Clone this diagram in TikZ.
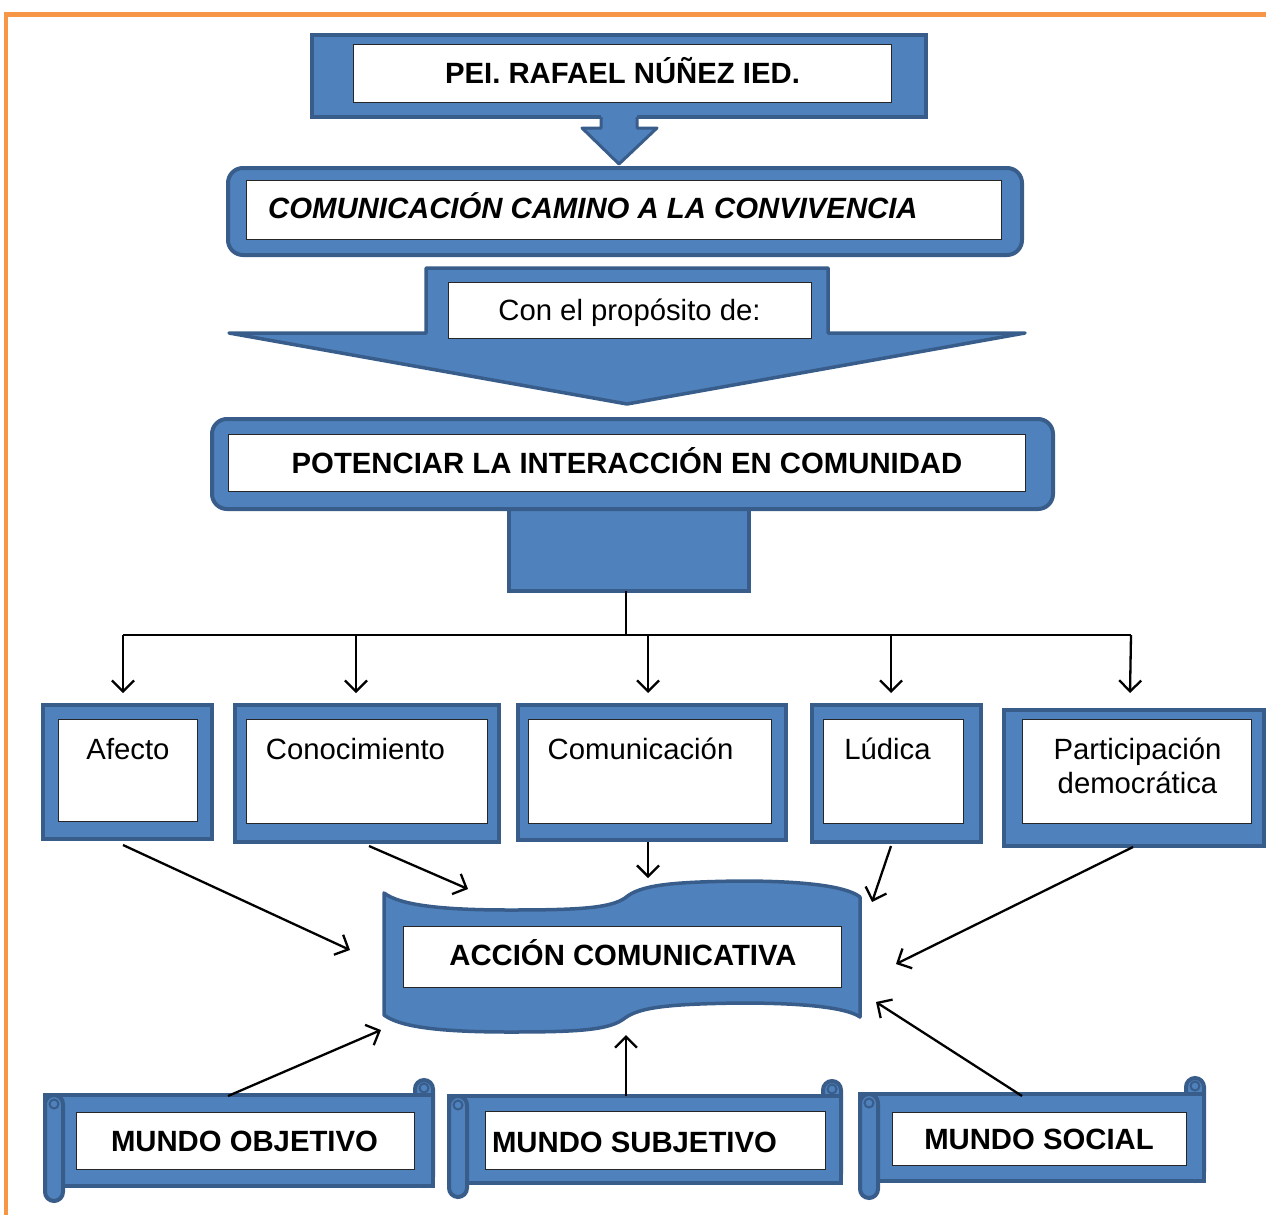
\documentclass[tikz,border=0pt]{standalone}
\usepackage{fontspec}
\setmainfont{Liberation Sans}
\usetikzlibrary{arrows.meta}
\definecolor{bfill}{HTML}{4F81BD}
\definecolor{bdark}{HTML}{385D8A}
\definecolor{orng}{HTML}{F79646}
\begin{document}
\begin{tikzpicture}[x=1pt,y=-1pt,
  bluebox/.style={draw=bdark, fill=bfill, line width=4pt, inner sep=0pt, outer sep=0pt},
  shapebl/.style={draw=bdark, fill=bfill, line width=3.5pt, line join=round},
  whitebox/.style={draw=black!85, fill=white, line width=1.3pt, inner sep=0pt},
  lbl/.style={font=\fontsize{29.3}{34}\selectfont, inner sep=0pt, anchor=base, align=center},
  blbl/.style={lbl, font=\fontsize{29.3}{34}\selectfont\bfseries},
  conn/.style={line width=2.3pt, draw=black},
  arr/.style={conn, -{Straight Barb[length=11pt,width=22pt]}},
  curl/.style={draw=bdark, line width=2pt},
]
\useasboundingbox (0,0) rectangle (1266,1215);
% orange frame
\draw[orng, line width=4.5pt] (6,1215) -- (6,14.5) -- (1266,14.5);

% ---- PEI box
\node[bluebox, minimum width=614, minimum height=82] (pei) at (619,76) {};
\node[whitebox, minimum width=538, minimum height=58] (peiw) at (622.5,73.5) {};
\node[blbl] (peit) at (622.5,84) {PEI. RAFAEL NÚÑEZ IED.};

% ---- small down arrow
\fill[bfill] (601,115) -- (601,128) -- (582,128) -- (619,164) -- (657,128) -- (637,128) -- (637,115) -- cycle;
\draw[bdark, line width=3pt, line join=round] (601,117) -- (601,128) -- (582,128) -- (619,164) -- (657,128) -- (637,128) -- (637,117);

% ---- COMUNICACION box
\node[bluebox, rounded corners=15, minimum width=794, minimum height=87] (cam) at (625,211.5) {};
\node[whitebox, minimum width=755, minimum height=59] (camw) at (624,210) {};
\node[blbl, anchor=base west, font=\fontsize{29.3}{34}\selectfont\bfseries\itshape] (camt) at (268,218) {COMUNICACIÓN CAMINO A LA CONVIVENCIA};

% ---- big down arrow
\path[shapebl] (426,268) -- (828,268) -- (828,333) -- (1025,333) -- (627,404) -- (229,333) -- (426,333) -- cycle;
\node[whitebox, minimum width=363, minimum height=56] (prop) at (630,310.5) {};
\node[lbl] (propt) at (629.5,320) {Con el propósito de:};

% ---- stem and POTENCIAR box
\node[bluebox, minimum width=240, minimum height=88] (stem) at (629,547) {};
\node[bluebox, rounded corners=15, minimum width=841, minimum height=90] (pot) at (632.5,464) {};
\node[whitebox, minimum width=797, minimum height=57] (potw) at (627,463) {};
\node[blbl] (pott) at (627,473) {POTENCIAR LA INTERACCIÓN EN COMUNIDAD};

% ---- tree connectors
\coordinate (sb) at (626,591);
\coordinate (br) at (626,635);
\coordinate (h1) at (123,635);
\coordinate (h2) at (356,635);
\coordinate (h3) at (648,635);
\coordinate (h4) at (891,635);
\coordinate (h5) at (1131,635);
\coordinate (e1) at (123,693);
\coordinate (e2) at (356,693);
\coordinate (e3) at (648,693);
\coordinate (e4) at (891,693);
\coordinate (e5) at (1130,693);
\draw[conn] (sb) -- (br);
\draw[conn] (h1) -- (h5);
\draw[arr] (h1) -- (e1);
\draw[arr] (h2) -- (e2);
\draw[arr] (h3) -- (e3);
\draw[arr] (h4) -- (e4);
\draw[arr] (h5) -- (e5);

% ---- second row
\node[bluebox, minimum width=169, minimum height=134] (afe) at (127.5,772) {};
\node[whitebox, minimum width=139, minimum height=102] (afew) at (128,770.5) {};
\node[lbl] (afet) at (128,759) {Afecto};

\node[bluebox, minimum width=264, minimum height=137] (con) at (367,773.5) {};
\node[whitebox, minimum width=241, minimum height=104] (conw) at (367,771.5) {};
\node[lbl] (cont) at (355.5,759) {Conocimiento};

\node[bluebox, minimum width=268, minimum height=135] (com) at (652,772.5) {};
\node[whitebox, minimum width=243, minimum height=104] (comw) at (650,771.5) {};
\node[lbl] (comt) at (640.5,759) {Comunicación};

\node[bluebox, minimum width=169, minimum height=137] (lud) at (896.5,773.5) {};
\node[whitebox, minimum width=140, minimum height=104] (ludw) at (893.5,771.5) {};
\node[lbl] (ludt) at (887.5,759) {Lúdica};

\node[bluebox, minimum width=260, minimum height=136] (par) at (1134,778) {};
\node[whitebox, minimum width=229, minimum height=104] (parw) at (1137,771.5) {};
\node[lbl] (part) at (1137.5,793) {Participación\\democrática};

% ---- wave shape
\path[shapebl] (384,893) .. controls (400,905) and (440,910) .. (510,910)
  .. controls (580,910) and (610,908) .. (625,898)
  .. controls (640,885) and (670,882) .. (740,881)
  .. controls (820,881) and (850,889) .. (860,897)
  -- (860,1017)
  .. controls (850,1010) and (820,1003) .. (740,1003)
  .. controls (670,1004) and (640,1007) .. (625,1018)
  .. controls (610,1030) and (580,1032) .. (510,1032)
  .. controls (440,1032) and (400,1027) .. (384,1015) -- cycle;
\node[whitebox, minimum width=438, minimum height=61] (acc) at (622.5,957) {};
\node[blbl] (acct) at (623,965) {ACCIÓN COMUNICATIVA};

% ---- arrows into wave
\coordinate (a1s) at (123,845);  \coordinate (a1e) at (350,950);
\coordinate (a2s) at (369,846);  \coordinate (a2e) at (468,889);
\coordinate (a3s) at (648,842);  \coordinate (a3e) at (648,878);
\coordinate (a4s) at (891,846);  \coordinate (a4e) at (872,902);
\coordinate (a5s) at (1133,847); \coordinate (a5e) at (896,964);
\coordinate (a6s) at (228,1096); \coordinate (a6e) at (381,1030);
\coordinate (a7s) at (626,1096); \coordinate (a7e) at (626,1035);
\coordinate (a8s) at (1022,1096);\coordinate (a8e) at (876,1002);
\draw[arr] (a1s) -- (a1e);
\draw[arr] (a2s) -- (a2e);
\draw[arr] (a3s) -- (a3e);
\draw[arr] (a4s) -- (a4e);
\draw[arr] (a5s) -- (a5e);

% ---- scrolls
% MUNDO OBJETIVO
\draw[bluebox, rounded corners=9] (415,1080) rectangle (433,1186);
\draw[bluebox] (45,1095) rectangle (433,1186);
\draw[bluebox, rounded corners=9] (45,1095) rectangle (63,1201);
\draw[curl] (54,1104) circle (4.5);
\draw[curl] (424,1088) circle (4.5);
\node[whitebox, minimum width=338, minimum height=57] (mow) at (245.5,1141) {};
\node[blbl] (mot) at (244.5,1151) {MUNDO OBJETIVO};

% MUNDO SUBJETIVO
\draw[bluebox, rounded corners=9] (823,1081) rectangle (841,1183);
\draw[bluebox] (449,1096) rectangle (841,1183);
\draw[bluebox, rounded corners=9] (449,1096) rectangle (467,1197);
\draw[curl] (458,1105) circle (4.5);
\draw[curl] (832,1089) circle (4.5);
\node[whitebox, minimum width=340, minimum height=58] (msw) at (655.5,1140.5) {};
\node[blbl] (mst) at (634.5,1152) {MUNDO SUBJETIVO};

% MUNDO SOCIAL
\draw[bluebox, rounded corners=9] (1186,1078) rectangle (1204,1181);
\draw[bluebox] (860,1094) rectangle (1204,1181);
\draw[bluebox, rounded corners=9] (860,1094) rectangle (878,1198);
\draw[curl] (869,1103) circle (4.5);
\draw[curl] (1195,1086) circle (4.5);
\node[whitebox, minimum width=294, minimum height=53] (mcw) at (1039.5,1139) {};
\node[blbl] (mct) at (1039,1149) {MUNDO SOCIAL};

\draw[arr] (a6s) -- (a6e);
\draw[arr] (a7s) -- (a7e);
\draw[arr] (a8s) -- (a8e);
\end{tikzpicture}
\end{document}
